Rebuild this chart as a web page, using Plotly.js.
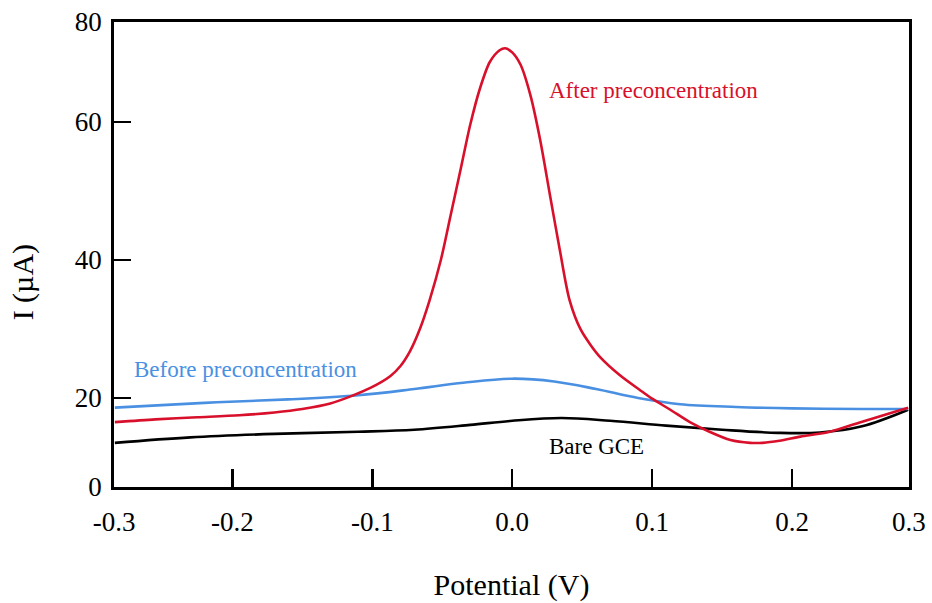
<!DOCTYPE html>
<html>
<head>
<meta charset="utf-8">
<script src="https://cdn.plot.ly/plotly-3.0.1.min.js"></script>
<style>
  html, body { margin: 0; padding: 0; background: #fff; }
  #chart { width: 932px; height: 603px; }
</style>
</head>
<body>
<div id="chart"></div>
<script>
// Potential (V)
const afterX = [-0.284, -0.255, -0.225, -0.195, -0.17, -0.15, -0.13, -0.116, -0.101, -0.087, -0.08, -0.073, -0.066, -0.059, -0.051, -0.044, -0.037, -0.03, -0.023, -0.016, -0.009, -0.005, 0.0, 0.006, 0.013, 0.02, 0.027, 0.034, 0.041, 0.049, 0.056, 0.063, 0.077, 0.091, 0.1, 0.113, 0.127, 0.141, 0.156, 0.17, 0.179, 0.191, 0.206, 0.227, 0.249, 0.27, 0.283];
// Current (µA)
const afterY = [16.5, 16.9, 17.2, 17.5, 17.9, 18.4, 19.2, 20.2, 21.5, 23.2, 24.6, 26.8, 30.0, 34.2, 40.0, 46.5, 53.0, 59.6, 64.9, 68.7, 70.4, 70.7, 70.1, 68.3, 63.9, 57.4, 49.4, 41.5, 34.2, 29.9, 27.7, 25.9, 23.3, 21.2, 19.9, 18.3, 16.5, 15.1, 13.9, 13.5, 13.5, 13.8, 14.4, 15.1, 16.5, 17.8, 18.6];

const beforeX = [-0.284, -0.22, -0.16, -0.11, -0.07, -0.035, 0.0, 0.03, 0.06, 0.09, 0.12, 0.16, 0.2, 0.25, 0.283];
const beforeY = [18.6, 19.3, 19.8, 20.4, 21.3, 22.2, 22.8, 22.4, 21.3, 20.0, 19.1, 18.7, 18.5, 18.4, 18.4];

const bareX = [-0.284, -0.23, -0.17, -0.11, -0.07, -0.03, 0.0, 0.035, 0.07, 0.11, 0.15, 0.19, 0.22, 0.25, 0.283];
const bareY = [13.5, 14.3, 14.8, 15.1, 15.4, 16.1, 16.7, 17.1, 16.7, 16.0, 15.4, 14.95, 15.0, 15.9, 18.3];

// Axis tick labels as printed on the figure
const xTickVals = [-0.2845, -0.2, -0.1, 0.0, 0.1, 0.2, 0.2835];
const xTickText = ["-0.3", "-0.2", "-0.1", "0.0", "0.1", "0.2", "0.3"];
const yTickVals = [7.1, 20, 40, 60, 74.5];
const yTickText = ["0", "20", "40", "60", "80"];

const seriesNames = ["After preconcentration", "Before preconcentration", "Bare GCE"];
const colors = ["#d8102b", "#4a90e2", "#000000"];

const FONT = "'Liberation Serif', 'Times New Roman', Times, serif";

const traces = [
  {x: bareX, y: bareY, name: seriesNames[2], mode: "lines", line: {color: colors[2], width: 2.6, shape: "spline", smoothing: 1}},
  {x: beforeX, y: beforeY, name: seriesNames[1], mode: "lines", line: {color: colors[1], width: 2.6, shape: "spline", smoothing: 1}},
  {x: afterX, y: afterY, name: seriesNames[0], mode: "lines", line: {color: colors[0], width: 2.6, shape: "spline", smoothing: 0.8}}
];

const layout = {
  width: 932, height: 603,
  margin: {l: 114, r: 23, t: 22, b: 116},
  paper_bgcolor: "#fff", plot_bgcolor: "#fff",
  showlegend: false,
  font: {family: FONT, color: "#000", size: 27},
  xaxis: {
    range: [-0.2846, 0.2836],
    tickvals: xTickVals, ticktext: xTickText,
    ticks: "inside", ticklen: 18, tickwidth: 2.5, tickcolor: "#000",
    showline: true, linecolor: "#000", linewidth: 2.8, mirror: true,
    showgrid: false, zeroline: false,
    tickfont: {family: FONT, size: 27, color: "#000"},
    ticklabelstandoff: 9,
    title: {text: "Potential (V)", font: {family: FONT, size: 30, color: "#000"}, standoff: 38}
  },
  yaxis: {
    range: [7.1, 74.5],
    tickvals: yTickVals, ticktext: yTickText,
    ticks: "inside", ticklen: 17, tickwidth: 2.5, tickcolor: "#000",
    showline: true, linecolor: "#000", linewidth: 2.8, mirror: true,
    showgrid: false, zeroline: false,
    tickfont: {family: FONT, size: 27, color: "#000"},
    ticklabelstandoff: 4
  },
  annotations: [
    {xref: "paper", yref: "paper", x: -0.1145, y: 0.44, text: "I (µA)", textangle: -90,
     showarrow: false, xanchor: "center", yanchor: "middle",
     font: {family: FONT, size: 30, color: "#000"}},
    {x: 0.025, y: 64.6, text: seriesNames[0], showarrow: false, xanchor: "left", yanchor: "middle",
     font: {family: FONT, size: 23, color: colors[0]}},
    {x: -0.2714, y: 24.2, text: seriesNames[1], showarrow: false, xanchor: "left", yanchor: "middle",
     font: {family: FONT, size: 23, color: colors[1]}},
    {x: 0.06, y: 12.9, text: seriesNames[2], showarrow: false, xanchor: "center", yanchor: "middle",
     font: {family: FONT, size: 23, color: colors[2]}}
  ]
};

Plotly.newPlot("chart", traces, layout, {displayModeBar: false, staticPlot: true});
</script>
</body>
</html>
